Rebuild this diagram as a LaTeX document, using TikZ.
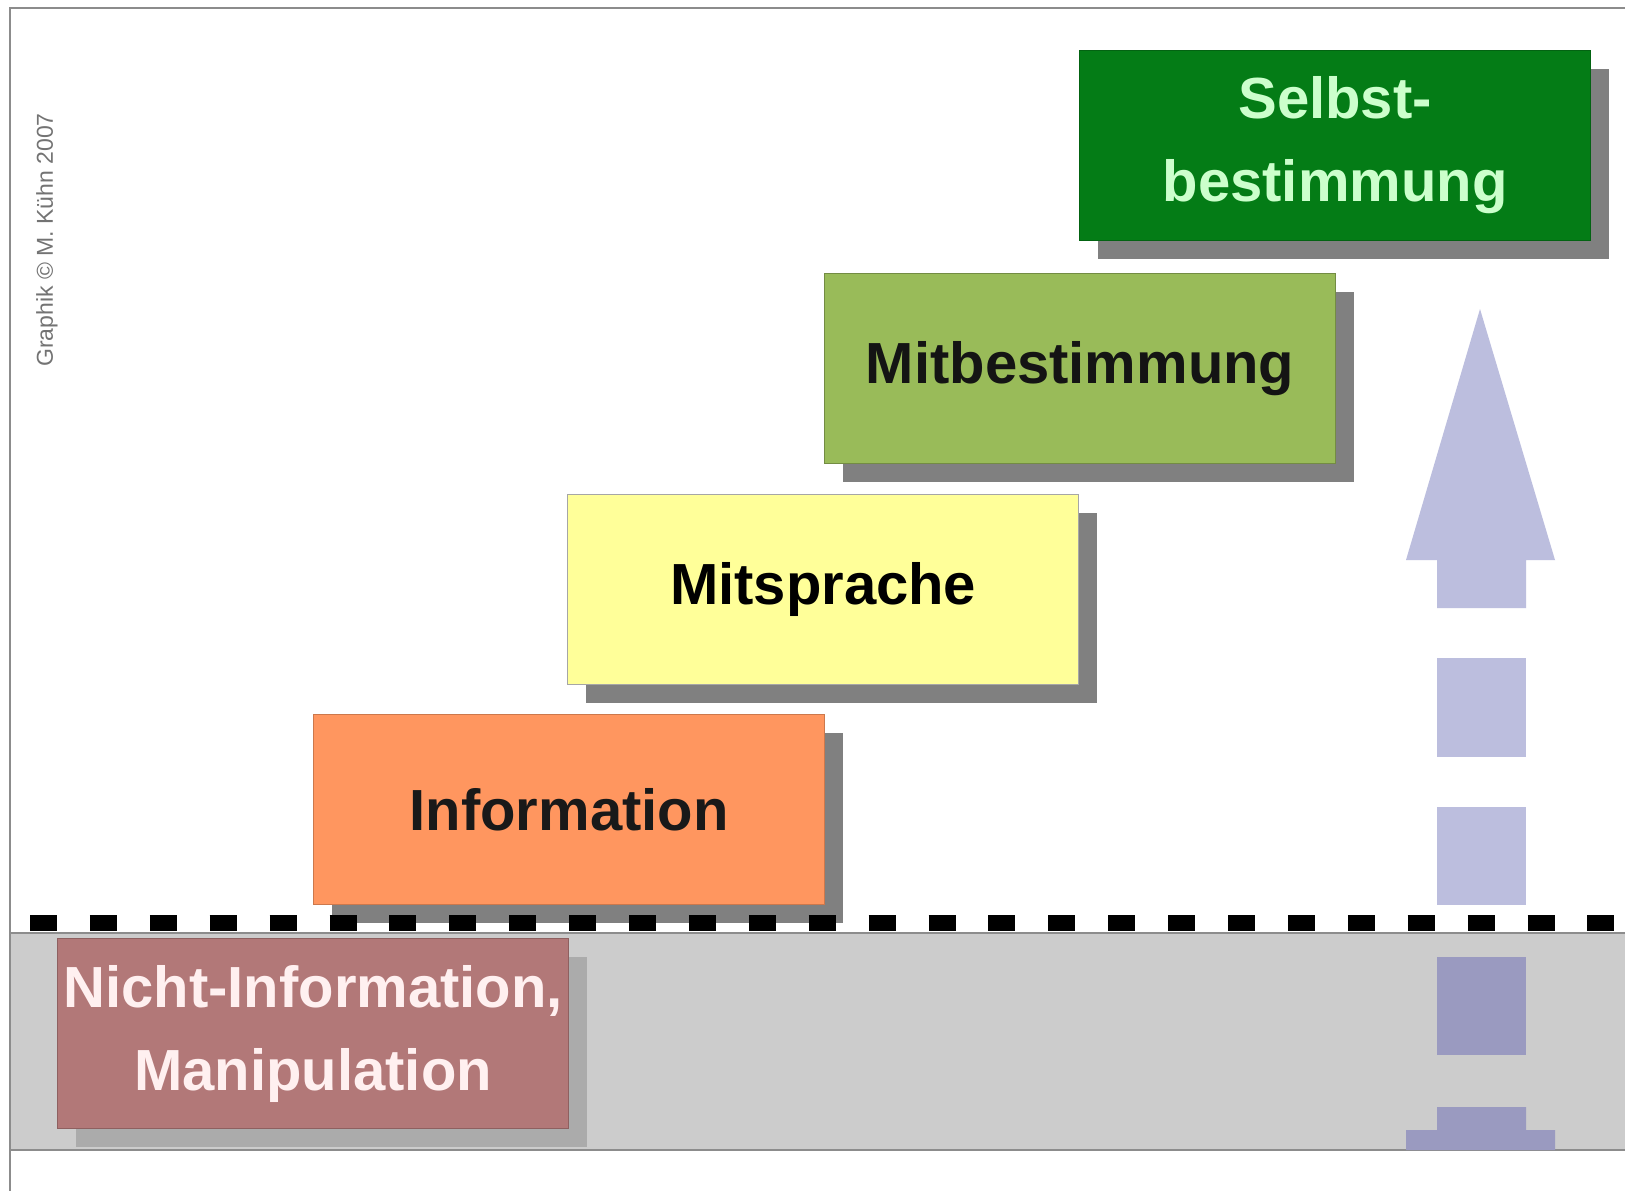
\documentclass[tikz,border=0pt]{standalone}
\usepackage{fontspec}
\setmainfont{Liberation Sans}
\usetikzlibrary{shadows}
\definecolor{selbstgreen}{RGB}{4,124,22}
\definecolor{mitbestgreen}{RGB}{153,187,89}
\definecolor{mitspryellow}{RGB}{255,255,153}
\definecolor{infoorange}{RGB}{255,150,95}
\definecolor{nichtrose}{RGB}{178,120,120}
\definecolor{bandgray}{RGB}{204,204,204}
\definecolor{arrowlight}{RGB}{188,190,222}
\definecolor{arrowdark}{RGB}{154,154,192}
\definecolor{selbsttext}{RGB}{204,255,204}
\tikzset{
  stagebox/.style={anchor=north west, minimum width=511pt, minimum height=190pt,
    inner sep=0pt, align=center, line width=1.2pt,
    font=\fontsize{58}{83}\selectfont\bfseries,
    drop shadow={shadow xshift=18pt, shadow yshift=-18pt, fill=black!50, opacity=1}},
  framegray/.style={draw=black!45, line width=1.5pt}
}
\begin{document}
\begin{tikzpicture}[x=1pt,y=-1pt]
\useasboundingbox (0,0) rectangle (1625,1191);
\fill[white] (0,0) rectangle (1625,1191);
% gray band
\fill[bandgray] (10,933) rectangle (1625,1150);
\draw[framegray] (10,1191) -- (10,8) -- (1625,8);
\draw[framegray] (10,933) -- (1625,933);
\draw[framegray] (10,1150) -- (1625,1150);
% arrow
\fill[arrowlight] (1480,309) -- (1555,560) -- (1526,560) -- (1526,608) -- (1437,608) -- (1437,560) -- (1406,560) -- cycle;
\fill[arrowlight] (1437,658) rectangle (1526,757);
\fill[arrowlight] (1437,807) rectangle (1526,905);
\fill[arrowdark] (1437,957) rectangle (1526,1055);
\fill[arrowdark] (1437,1107) -- (1526,1107) -- (1526,1130) -- (1555,1130) -- (1555,1150) -- (1406,1150) -- (1406,1130) -- (1437,1130) -- cycle;
% boxes
\node[stagebox, fill=nichtrose, draw=nichtrose!80!black, text=white!94!red,
  drop shadow={shadow xshift=18pt, shadow yshift=-18pt, fill=black!33, opacity=1}]
  (nicht) at (57,938) {Nicht-Information,\\Manipulation};
\node[stagebox, fill=infoorange, draw=infoorange!80!black, text=black!90] (info) at (313,714) {Information};
\node[stagebox, fill=mitspryellow, draw=black!35] (mitsprache) at (567,494) {Mitsprache};
\node[stagebox, fill=mitbestgreen, draw=mitbestgreen!75!black, text=black!92] (mitbest) at (824,273) {Mitbestimmung};
\node[stagebox, fill=selbstgreen, draw=selbstgreen!80!black, text=selbsttext] (selbst) at (1079,50) {Selbst-\\bestimmung};
% dashed boundary
\draw[black, line width=16pt, dash pattern=on 27pt off 32.9pt] (30,923) -- (1625,923);
% credit
\node[rotate=90, text=black!55, font=\fontsize{23}{23}\selectfont] (credit) at (47,240) {Graphik © M. Kühn 2007};
\end{tikzpicture}
\end{document}
